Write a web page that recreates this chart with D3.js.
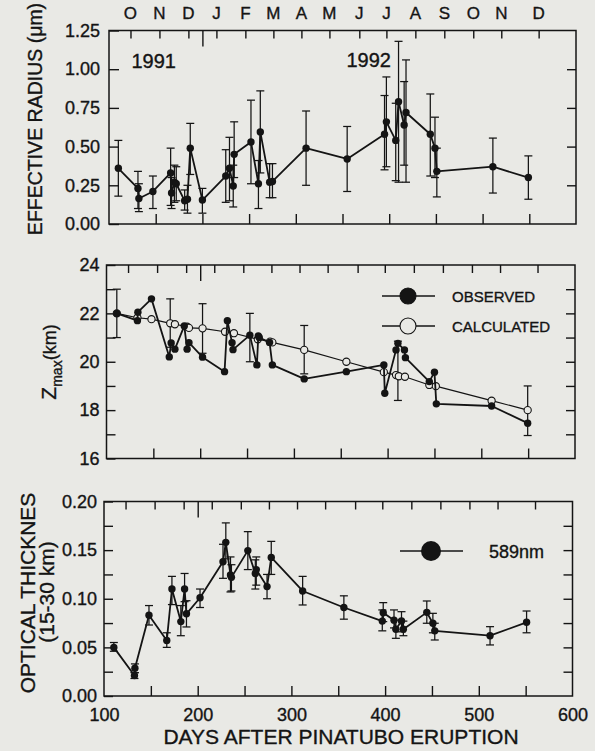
<!DOCTYPE html>
<html>
<head>
<meta charset="utf-8">
<script src="https://cdnjs.cloudflare.com/ajax/libs/d3/7.8.5/d3.min.js"></script>
<style>
    body { margin: 0; background: #e9e9e5; }
    svg { display: block; font-family: "Liberation Sans", Arial, sans-serif; }
    svg text { stroke: #141414; stroke-width: 0.35; }
    .axis path { display: none; }
    .axis line { stroke: #141414; stroke-width: 1.4; }
    .axis text { font-size: 18px; fill: #141414; font-family: "Liberation Sans", Arial, sans-serif; }
</style>
</head>
<body>
<script>
(function(){
    // Top panel: effective radius (um)
    var radDays = [110, 131, 132, 147, 166, 167, 170, 172, 181, 184, 187, 200, 225, 229, 233, 234, 252, 260, 262, 272,
                   275, 311, 355, 395, 397, 407, 410, 416, 418, 444, 449, 451, 511, 549];
    var radVals = [0.36, 0.23, 0.165, 0.21, 0.33, 0.20, 0.27, 0.26, 0.15, 0.16, 0.49, 0.155, 0.31, 0.36, 0.245, 0.45, 0.53, 0.26, 0.595, 0.27,
                   0.275, 0.49, 0.42, 0.58, 0.66, 0.54, 0.79, 0.64, 0.72, 0.58, 0.49, 0.34, 0.37, 0.30];
    var radLo = [0.18, 0.10, 0.08, 0.10, 0.12, 0.10, 0.14, 0.15, 0.09, 0.07, 0.32, 0.07, 0.14, 0.15, 0.11, 0.30, 0.26, 0.10, 0.33, 0.17,
                 0.17, 0.25, 0.21, 0.35, 0.37, 0.28, 0.27, 0.38, 0.27, 0.31, 0.30, 0.175, 0.20, 0.16];
    var radHi = [0.54, 0.34, 0.26, 0.31, 0.49, 0.30, 0.38, 0.37, 0.22, 0.25, 0.65, 0.23, 0.48, 0.56, 0.38, 0.66, 0.80, 0.41, 0.86, 0.39,
                 0.39, 0.73, 0.63, 0.83, 0.95, 0.78, 1.18, 0.92, 1.06, 0.84, 0.69, 0.49, 0.555, 0.44];

    // Middle panel: Z max (km), observed and calculated
    var zObsDays = [111, 133, 133.5, 148, 167, 169, 173, 183, 186, 188, 202.5, 226, 229, 234, 235, 253, 260.5, 262, 263, 274,
                    277, 311, 356, 396, 397, 409, 411, 418, 419, 444.5, 450, 452, 511, 549.5];
    var zObs = [22.0, 21.7, 22.05, 22.6, 20.2, 20.78, 20.52, 21.48, 20.52, 20.79, 20.19, 19.59, 21.7, 20.79, 20.5, 21.1, 19.87, 21.07, 21.0, 20.8,
                19.87, 19.29, 19.59, 19.87, 18.7, 20.49, 20.76, 20.49, 20.17, 19.18, 19.57, 18.26, 18.17, 17.46];
    var zCalcDays = [111, 133, 148, 168, 173, 186, 188, 202.5, 226.5, 236, 261.5, 274.5, 277, 311, 356, 396, 409, 412, 418.5, 444.5,
                     451.5, 511, 549.5];
    var zCalc = [22.0, 21.82, 21.76, 21.59, 21.55, 21.45, 21.4, 21.38, 21.24, 21.18, 20.93, 20.83, 20.8, 20.49, 20.0, 19.57, 19.45, 19.4, 19.38, 19.04,
                 18.99, 18.39, 18.0];
    var zErrDays = [111, 168, 202.5, 253, 311, 411, 549.5];
    var zErrLo = [21.0, 20.6, 20.35, 20.0, 19.5, 18.4, 16.95];
    var zErrHi = [23.0, 22.6, 22.4, 22.0, 21.5, 20.85, 19.0];

    // Bottom panel: optical thickness 15-30 km at 589nm
    var tauDays = [110.5, 132.5, 133, 148, 167, 172.5, 182, 186, 188, 202.5, 227, 230, 235, 236, 253.5, 261.5, 262.5, 274, 278.5, 312,
                   356, 397, 398, 409.5, 411.5, 417.5, 419.5, 444.5, 451, 453, 512, 551];
    var tauVals = [0.050, 0.021, 0.0285, 0.083, 0.057, 0.110, 0.0765, 0.110, 0.0845, 0.101, 0.138, 0.158, 0.1245, 0.122, 0.1495, 0.126, 0.130, 0.1125, 0.1425, 0.108,
                   0.091, 0.077, 0.0857, 0.078, 0.0686, 0.0772, 0.0686, 0.086, 0.0748, 0.067, 0.062, 0.0758];
    var tauLo = [0.046, 0.018, 0.024, 0.073, 0.050, 0.094, 0.062, 0.097, 0.071, 0.091, 0.121, 0.141, 0.107, 0.108, 0.130, 0.110, 0.114, 0.100, 0.125, 0.0936,
                 0.079, 0.067, 0.0765, 0.070, 0.0593, 0.066, 0.062, 0.0748, 0.065, 0.0576, 0.0525, 0.065];
    var tauHi = [0.055, 0.024, 0.033, 0.093, 0.065, 0.123, 0.093, 0.126, 0.098, 0.110, 0.156, 0.178, 0.143, 0.135, 0.169, 0.140, 0.143, 0.125, 0.159, 0.123,
                 0.103, 0.0885, 0.096, 0.0885, 0.078, 0.0867, 0.077, 0.0977, 0.085, 0.0748, 0.0713, 0.0874];

    // Axis ticks and labels
    var monthLabels = ["O", "N", "D", "J", "F", "M", "A", "M", "J", "J", "A", "S", "O", "N", "D"];
    var monthDays = [123, 154, 185, 215, 246, 276, 306, 336, 368, 397, 428, 459, 490, 520, 560];
    var yearBreakDay = 200;
    var dayTicks = [150, 200, 250, 300, 350, 400, 450, 500, 550];
    var dayLabels = [100, 200, 300, 400, 500, 600];
    var radTicks = [0, 0.25, 0.5, 0.75, 1.0, 1.25];
    var zTicks = [16, 17, 18, 19, 20, 21, 22, 23, 24];
    var tauTicks = [0, 0.025, 0.05, 0.075, 0.1, 0.125, 0.15, 0.175, 0.2];

    var ink = "#141414",
        paper = "#e9e9e5";

    var svg = d3.select("body")
        .append("svg")
        .attr("width", 595)
        .attr("height", 751);

    svg.append("rect")
        .attr("width", 595)
        .attr("height", 751)
        .attr("fill", paper);

    //==========================================
    // PANEL FRAME + SHARED TICKS
    //==========================================
    function makePanel(xRange, yRange, yDomain){
        var x = d3.scaleLinear().domain([100, 600]).range(xRange);
        var y = d3.scaleLinear().domain(yDomain).range(yRange);
        var g = svg.append("g");

        g.append("rect")
            .attr("x", xRange[0])
            .attr("y", yRange[1])
            .attr("width", xRange[1] - xRange[0])
            .attr("height", yRange[0] - yRange[1])
            .attr("fill", "none")
            .attr("stroke", ink)
            .attr("stroke-width", 1.5);

        // mid-month ticks along the top
        g.append("g")
            .attr("class", "axis")
            .attr("transform", "translate(0," + yRange[1] + ")")
            .call(d3.axisTop(x).tickValues(monthDays).tickSize(-8).tickFormat(""));

        // long tick at the 1991/1992 boundary
        g.append("g")
            .attr("class", "axis")
            .attr("transform", "translate(0," + yRange[1] + ")")
            .call(d3.axisTop(x).tickValues([yearBreakDay]).tickSize(-16).tickFormat(""));

        // day ticks along the bottom
        g.append("g")
            .attr("class", "axis")
            .attr("transform", "translate(0," + yRange[0] + ")")
            .call(d3.axisBottom(x).tickValues(dayTicks).tickSize(-10).tickFormat(""));

        return { x: x, y: y, g: g };
    }

    function drawErrors(p, days, lo, hi){
        var grp = p.g.append("g")
            .attr("stroke", ink)
            .attr("stroke-width", 1.25);
        days.forEach(function(d, i){
            var cx = p.x(d);
            grp.append("line")
                .attr("x1", cx).attr("x2", cx)
                .attr("y1", p.y(lo[i])).attr("y2", p.y(hi[i]));
            [lo[i], hi[i]].forEach(function(v){
                grp.append("line")
                    .attr("x1", cx - 4).attr("x2", cx + 4)
                    .attr("y1", p.y(v)).attr("y2", p.y(v));
            });
        });
    }

    function drawSeries(p, days, vals, filled, width){
        var pts = days.map(function(d, i){ return [d, vals[i]]; });
        var line = d3.line()
            .x(function(d){ return p.x(d[0]); })
            .y(function(d){ return p.y(d[1]); });
        p.g.append("path")
            .datum(pts)
            .attr("d", line)
            .attr("fill", "none")
            .attr("stroke", ink)
            .attr("stroke-width", width)
            .attr("stroke-linejoin", "round");
        p.g.selectAll(null)
            .data(pts)
            .enter()
            .append("circle")
            .attr("cx", function(d){ return p.x(d[0]); })
            .attr("cy", function(d){ return p.y(d[1]); })
            .attr("r", filled ? 3.7 : 3.6)
            .attr("fill", filled ? ink : paper)
            .attr("stroke", ink)
            .attr("stroke-width", filled ? 0 : 1.1);
    }

    function rotatedLabel(x, y, size){
        return svg.append("text")
            .attr("transform", "translate(" + x + "," + y + ") rotate(-90)")
            .attr("text-anchor", "middle")
            .attr("font-size", size)
            .attr("fill", ink);
    }

    //==========================================
    // TOP PANEL: EFFECTIVE RADIUS
    //==========================================
    var top = makePanel([109, 576], [224, 30.5], [0, 1.25]);

    top.g.append("g")
        .attr("class", "axis")
        .attr("transform", "translate(109,0)")
        .call(d3.axisLeft(top.y).tickValues(radTicks).tickSize(-10).tickPadding(9).tickFormat(d3.format(".2f")));
    top.g.append("g")
        .attr("class", "axis")
        .attr("transform", "translate(576,0)")
        .call(d3.axisRight(top.y).tickValues(radTicks.slice(1, 5)).tickSize(-9).tickFormat(""));

    top.g.selectAll(".month")
        .data(monthLabels)
        .enter()
        .append("text")
        .attr("class", "month")
        .attr("x", function(d, i){ return top.x(monthDays[i]); })
        .attr("y", 18.5)
        .attr("text-anchor", "middle")
        .attr("font-size", 17)
        .attr("fill", ink)
        .text(function(d){ return d; });

    top.g.append("text")
        .attr("x", top.x(124)).attr("y", top.y(1.01))
        .attr("font-size", 20).attr("fill", ink)
        .text("1991");
    top.g.append("text")
        .attr("x", top.x(378)).attr("y", top.y(1.015))
        .attr("text-anchor", "middle")
        .attr("font-size", 20).attr("fill", ink)
        .text("1992");

    drawErrors(top, radDays, radLo, radHi);
    drawSeries(top, radDays, radVals, true, 1.8);

    rotatedLabel(42, 119, 19.5).text("EFFECTIVE RADIUS (\u03bcm)");

    //==========================================
    // MIDDLE PANEL: Z MAX
    //==========================================
    var mid = makePanel([106.5, 575], [458.5, 265], [16, 24]);

    mid.g.append("g")
        .attr("class", "axis")
        .attr("transform", "translate(106.5,0)")
        .call(d3.axisLeft(mid.y).tickValues(zTicks).tickSize(-9).tickPadding(7)
            .tickFormat(function(d){ return d % 2 === 0 ? d : ""; }));
    mid.g.append("g")
        .attr("class", "axis")
        .attr("transform", "translate(575,0)")
        .call(d3.axisRight(mid.y).tickValues(zTicks.slice(1, 8)).tickSize(-9).tickFormat(""));

    drawErrors(mid, zErrDays, zErrLo, zErrHi);
    drawSeries(mid, zCalcDays, zCalc, false, 1.2);
    drawSeries(mid, zObsDays, zObs, true, 1.8);

    // legend
    var leg = mid.g.append("g");
    [["OBSERVED", 296, true], ["CALCULATED", 326, false]].forEach(function(e){
        leg.append("line")
            .attr("x1", 382).attr("x2", 435)
            .attr("y1", e[1]).attr("y2", e[1])
            .attr("stroke", ink).attr("stroke-width", 1.4);
        leg.append("circle")
            .attr("cx", 408).attr("cy", e[1]).attr("r", 8)
            .attr("fill", e[2] ? ink : paper)
            .attr("stroke", ink).attr("stroke-width", 1.1);
        leg.append("text")
            .attr("x", 452).attr("y", e[1] + 5.5)
            .attr("font-size", 15).attr("fill", ink)
            .text(e[0]);
    });

    var zLab = rotatedLabel(56, 362, 21);
    zLab.append("tspan").text("Z");
    zLab.append("tspan").attr("font-size", 14).attr("dy", 6).text("max");
    zLab.append("tspan").attr("font-size", 18).attr("dy", -6).text("(km)");

    //==========================================
    // BOTTOM PANEL: OPTICAL THICKNESS
    //==========================================
    var bot = makePanel([104, 572.5], [696, 501.5], [0, 0.2]);

    bot.g.append("g")
        .attr("class", "axis")
        .attr("transform", "translate(104,0)")
        .call(d3.axisLeft(bot.y).tickValues(tauTicks).tickSize(-9).tickPadding(7)
            .tickFormat(function(d){
                return Math.abs(d * 20 - Math.round(d * 20)) < 1e-6 ? d3.format(".2f")(d) : "";
            }));
    bot.g.append("g")
        .attr("class", "axis")
        .attr("transform", "translate(572.5,0)")
        .call(d3.axisRight(bot.y).tickValues(tauTicks.slice(1, 8)).tickSize(-9).tickFormat(""));
    bot.g.append("g")
        .attr("class", "axis")
        .attr("transform", "translate(0,696)")
        .call(d3.axisBottom(bot.x).tickValues(dayLabels).tickSize(0).tickPadding(12));

    drawErrors(bot, tauDays, tauLo, tauHi);
    drawSeries(bot, tauDays, tauVals, true, 1.8);

    var leg2 = bot.g.append("g");
    leg2.append("line")
        .attr("x1", 400).attr("x2", 463)
        .attr("y1", 551).attr("y2", 551)
        .attr("stroke", ink).attr("stroke-width", 1.5);
    leg2.append("circle")
        .attr("cx", 431).attr("cy", 551).attr("r", 10)
        .attr("fill", ink);
    leg2.append("text")
        .attr("x", 489).attr("y", 557.5)
        .attr("font-size", 18).attr("fill", ink)
        .text("589nm");

    rotatedLabel(35, 593, 21).text("OPTICAL THICKNES");
    rotatedLabel(54, 592, 21).text("(15-30 km)");

    svg.append("text")
        .attr("x", 341).attr("y", 744)
        .attr("text-anchor", "middle")
        .attr("font-size", 21)
        .attr("fill", ink)
        .text("DAYS AFTER PINATUBO ERUPTION");
})();
</script>
</body>
</html>
